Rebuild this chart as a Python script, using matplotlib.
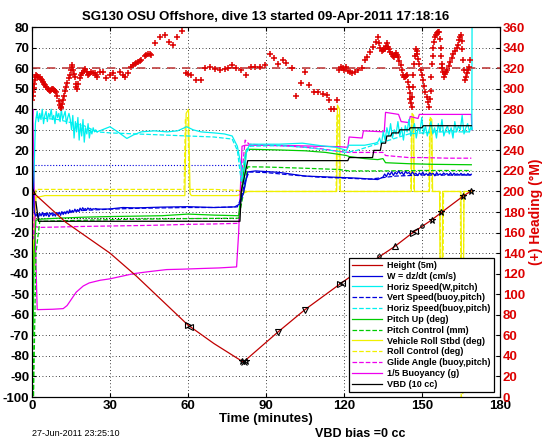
import numpy as np
import matplotlib
matplotlib.use('Agg')
import matplotlib.pyplot as plt

plt.rcParams['font.family'] = ['Liberation Sans', 'DejaVu Sans']
plt.rcParams['font.weight'] = 'bold'
plt.rcParams['axes.unicode_minus'] = False

# ---- data (time in minutes) ----
height_t = [0, 13, 30, 40, 60, 70, 81.3, 94.5, 105, 118.5, 128, 139.6, 146.5, 153.7, 157.5, 165.7, 169]
height_v = [0, -15, -30, -41, -65, -74, -83, -68.5, -57.5, -45, -36.5, -26.7, -20, -13.9, -10.2, -2.4, 0.3]

hmark_t = [0, 60, 60.9, 80.8, 81.6, 82.4, 94.5, 105, 118.3, 119.2, 128, 133.5, 139.6, 146.4, 147.2, 150, 153.7, 157.5, 165.7, 169]
hmark_v = [0, -65, -65.8, -82.6, -83, -82.6, -68.5, -57.5, -45.2, -44.3, -36.5, -31.5, -26.7, -20.1, -19.4, -17, -13.9, -10.2, -2.4, 0.3]
hmark_s = ['^', '>', '<', '*', 'x', '*', 'v', 'v', '>', '<', '.', '.', '^', '>', '<', '.', '*', '*', '*', '*']

# W = dz/dt
w_start_t = [0, 0.4, 0.8]
w_start_v = [22, 5, -9]
w_noisy1 = [-10.5, -12, -11, -12.5, -10.8, -11.9, -10.2, -12.1, -11, -11.8,
            -10.4, -12.3, -11.2, -10.6, -11.9, -10.9, -12.0, -10.3, -11.4, -10.1,
            -11.6, -9.8, -11.2, -10.0, -10.9, -9.5, -10.7, -8.9, -10.3, -9.2,
            -10.1, -8.6, -9.8, -8.8, -9.6, -8.1, -9.3, -7.9, -8.9, -8.3,
            -9.1, -8.0, -8.7, -8.2, -8.9, -8.4, -8.6, -8.3, -8.5]
w_mid_t = [27, 30, 35, 40, 50, 60, 70, 78, 80, 81.5, 83, 86, 95, 105, 115, 125, 133]
w_mid_v = [-8.6, -8.5, -7.8, -8, -7.6, -7.4, -7.8, -7.5, -6, 0, 9.5, 10, 9.3, 7.5, 7, 6.5, 5.8]
w_noisy2 = [7.0, 8.5, 7.2, 9.1, 8.0, 9.6, 7.8, 9.3, 8.4, 10.0, 8.6, 9.4, 7.9, 9.8, 8.8, 9.2, 8.1, 9.5, 8.3, 8.9,
            7.7, 9.0, 8.2, 9.3, 8.0, 8.7, 7.9, 9.1, 8.4, 8.8, 7.6, 9.2, 8.1, 8.6, 7.9, 9.0, 8.3, 8.7, 8.0, 9.1,
            7.8, 8.9, 8.2, 8.6, 7.9, 8.8, 8.1, 8.5, 7.8, 8.7, 8.0, 8.4]

# Horiz speed (W, pitch)
hs_start_t = [0.3, 0.7, 1.0, 1.3]
hs_start_v = [-8, 5, 20, 33]
hs_noisy1 = [35, 39, 34, 38, 35, 40, 33, 37, 39, 34, 38, 36, 40, 35, 37, 33, 39, 36, 38, 34,
             40, 35, 37, 39, 33, 36, 38, 35, 30, 37, 26, 34, 29, 36, 25, 33, 27, 35, 24, 31,
             28, 33, 26, 30, 28, 31, 29, 30, 29]
hs_mid_t = [27, 30, 33, 36.5, 39, 42, 47, 52, 56, 59.5, 62, 65, 70, 74, 77, 79, 80.5, 81.5, 82.5,
            84, 95, 104, 111, 117, 121, 121.8, 128, 132]
hs_mid_v = [30, 31.5, 29, 25.8, 27.5, 29, 29.5, 29, 29.5, 31.5, 30, 29, 28.5, 28, 27, 22, 12, 3, 20,
            23, 23, 23.5, 22.3, 21.5, 20, 22.5, 22.5, 23.5]
hs_noisy2 = [24, 26, 23, 29, 25, 31, 27, 33, 26, 30, 28, 34, 27, 31, 25, 32, 29, 35, 27, 30,
             33, 26, 31, 29, 36, 28, 32, 27, 30, 34, 28, 31, 26, 33, 29, 35, 27, 30, 32, 28,
             31, 26, 34, 29, 32, 30, 37, 28, 31, 33, 29, 32]
hs_end_t = [169.2, 169.3]
hs_end_v = [30, 95]

# Vert speed (buoy, pitch)
vsb_t = [1.5, 10, 20, 30, 40, 50, 60, 70, 79, 80.5, 82, 83.5, 90, 100, 110, 120, 130, 140, 150, 160, 169]
vsb_v = [-11, -10.5, -9.2, -8.6, -8.2, -8, -7.8, -7.8, -7.5, -3, 5, 9.5, 9.2, 8, 7, 6.5, 6, 7.5, 8, 8, 8]

# Horiz speed (buoy, pitch)
hsb_t = [1.5, 10, 20, 25, 30, 40, 50, 60, 70, 77, 79, 80.5, 82, 84, 95, 105, 115, 121, 125, 135, 145, 155, 165, 169]
hsb_v = [36, 35, 32, 29, 28.5, 28, 27.5, 27, 26.5, 25.5, 20, 5, 18, 22, 22.3, 21.5, 20, 19, 20, 24, 28, 29, 29, 29]

# Pitch up (deg)
pitch_t = [0, 0.4, 0.8, 1.5, 3, 10, 20, 30, 40, 50, 60, 70, 79.5, 81, 82.5, 85, 95, 105, 113, 121, 122,
           128, 133, 135, 136, 145, 155, 169]
pitch_v = [5, -70, -30, -14, -13.5, -13, -12.5, -12.2, -12, -11.8, -11, -11.5, -11.8, 5, 20.5, 20.5, 20.2,
           19.8, 19, 17.5, 17, 16, 15.5, 16, 14, 13.5, 13.2, 13]

# Pitch control (mm)
pctl_t = [0, 0.5, 0.6, 1.5, 3, 20, 40, 60, 79.5, 81.5, 83, 90, 105, 118, 122, 135, 150, 169]
pctl_v = [-20, -100, -100, -30, -14.5, -14, -13.5, -13.2, -13, 0, 12, 11.9, 11.3, 10.7, 10, 10, 10.2, 10.2]

# Vehicle roll (deg)
roll_t = [0, 0.3, 0.6, 1.5, 5, 20, 40, 58.8, 59.3, 60.2, 60.8, 61.3, 70, 79, 81, 83, 100, 117.2, 117.5,
          118.3, 118.6, 130, 145.9, 146.2, 146.8, 147.1, 152.9, 153.2, 153.8, 154.1, 156.8, 157.1,
          157.7, 158, 165, 165.3, 165.9, 166.2, 169]
roll_v = [0, -5, -40, -3, -2, -2, -2, -2, 38, 40, -1, -2, -2, -2, -1, 0, 0, 0, 42, 40, 0, 0, 0, 38, 37,
          0, 0, 36, 35, 0, 0, -62, -60, 0, 0, -58, -55, 0, 0]

# Roll control (deg)
rctl_t = [0.5, 1.5, 10, 40, 58.5, 59, 60, 60.5, 70, 80, 83, 117, 117.3, 118, 118.3, 145.7, 146, 146.6,
          146.9, 152.7, 153, 153.6, 153.9, 157, 157.3, 158, 158.3, 164.8, 165.1, 165.8, 166.1, 169]
rctl_v = [-40, 1, 1, 1, 1, 35, 36, 1, 1, 0.5, 0, 0, 38, 37, 0, 0, 36, 35, 0, 0, 35, 34, 0, 0, -75, -73,
          0, 0, -100, -98, 0, 0]

# Glide angle (buoy, pitch)
glide_t = [0, 0.5, 1.5, 2.5, 10, 20, 30, 45, 60, 70, 79.5, 80.5, 82, 83.5, 90, 100, 110, 118, 122, 130,
           135, 136, 145, 150, 160, 169]
glide_v = [20, -23, -17, -17.5, -17.3, -17, -16.8, -16.5, -16, -15.8, -15.5, 5, 25, 23, 22.5, 22, 21,
           19.5, 19, 19, 19, 17.5, 16.5, 16.5, 16.2, 16.2]

# 1/5 buoyancy (g)
buoy_t = [0, 0.3, 1.2, 2, 8, 12, 13.5, 15.6, 17, 19.7, 22, 26.2, 30, 39, 45, 51.8, 58, 64.6, 72, 78.7,
          79.5, 80.8, 82, 90, 100, 110, 118, 121.5, 122, 127, 127.5, 135.5, 136, 141, 142, 145, 145.5,
          148.5, 149, 169, 169.2]
buoy_v = [30, 40, -20, -57.5, -57.3, -57, -55.5, -51.6, -49, -46, -44.5, -43.2, -42.5, -40, -39, -38,
          -37.8, -37.5, -37.2, -36.7, -20, 22, 22.5, 22.5, 22.3, 22, 21.8, 21.5, 26.5, 26, 29.5, 29,
          38.5, 37.5, 34, 33.5, 36.5, 35.5, 37.5, 37.5, 30]

# VBD (10 cc)
vbd_t = [1.5, 2.5, 80, 80.5, 83, 121.5, 122, 131, 131.5, 134, 134.5, 136, 136.5, 138, 138.5, 141,
         141.5, 145, 145.5, 150, 150.5, 169]
vbd_v = [-5, -14.5, -14.5, 0, 15, 15, 16.5, 16.5, 20, 20, 23.5, 23.5, 27, 27, 28.5, 28.5, 30, 30,
         31, 31, 32, 32]

# heading (deg M), right axis
head_t = [0.0, 0.2, 0.4, 0.6, 0.8, 1.0, 1.3, 1.7, 2.1, 2.5, 2.9, 3.3, 3.7, 4.2, 4.6, 5.0, 5.5, 6.0, 6.4,
          6.8, 7.3, 7.7, 8.1, 8.5, 9.0, 9.4, 9.8, 10.2, 10.6, 11.0, 11.3, 11.6, 11.9, 12.3, 12.8, 13.2,
          13.6, 14.1, 14.5, 14.9, 15.2, 15.4, 15.8, 16.1, 16.4, 16.8, 17.1, 17.4, 17.8, 18.3, 18.8,
          19.4, 19.9, 20.5, 21.0, 21.5, 22.1, 22.8, 23.4, 24.1, 24.6, 25.1,
          26.0, 27.3, 28.6, 29.9, 31.2, 32.1, 33.7, 35.0, 35.6, 36.9, 38.2, 38.8, 39.5, 40.2, 40.8,
          41.5, 42.1, 43.3, 44.0, 44.6, 45.3, 45.9, 47.2, 49.1, 51.0, 52.7, 54.2, 55.9, 57.7, 59.4,
          60.2, 61.3, 63.2, 64.9, 66.7, 68.3, 70.3, 72.2, 74.1, 75.4, 76.9, 78.6, 80.5, 82.4, 84.1,
          85.6, 87.6, 89.5, 91.4, 93.1, 94.7, 96.4, 97.9, 99.9, 101.5, 103.3, 105.0, 106.7, 108.5,
          110.1, 111.8, 113.3, 114.4, 115.2, 116.2, 117.2, 118.1, 118.8, 119.5, 120.1, 120.8, 121.7,
          122.3, 123.0, 124.2, 125.5, 126.8, 128.1, 129.0, 130.0, 131.3, 132.3, 133.2,
          133.6, 134.0, 134.5, 135.0, 135.4, 135.8, 136.2, 136.6, 137.0, 137.5, 137.9, 138.3, 138.7,
          139.2, 139.6, 140.0, 140.4, 140.9, 141.3, 141.8, 142.2, 142.6, 143.0, 143.5, 144.0, 144.4,
          144.8, 145.1, 145.4, 145.6, 145.8, 146.0, 146.2, 146.4, 146.6, 146.9, 147.3, 147.7, 148.0,
          148.2, 148.6, 149.0, 149.5, 149.9, 150.4, 150.8, 151.3, 151.8, 152.3, 152.8, 153.1, 153.4,
          153.6, 153.8, 154.1, 154.4, 154.7, 155.1, 155.4, 155.7, 156.2, 156.7, 157.0, 157.2, 157.4,
          157.6, 157.8, 158.0, 158.5, 159.0, 159.4, 159.8, 160.3, 160.8, 161.4, 162.0, 162.6, 163.3,
          163.8, 164.4, 164.8, 165.1, 165.3, 165.6, 165.9, 166.2, 166.5, 166.9, 167.4, 167.8, 168.2,
          168.4]
head_v = [289, 293, 297, 301, 305, 308, 311, 313, 312, 311.5, 311, 309, 308, 306.5, 305, 303.5, 302, 300,
          299, 298, 299, 300, 300, 299, 298, 297, 293, 288, 284, 282, 281, 285, 289, 293, 298, 302, 306,
          310, 313, 318, 321, 323, 318, 314, 311, 305, 302, 300, 305, 310, 313, 315, 317, 319.5, 316,
          313, 314, 316, 315.5, 315, 313, 311,
          316, 316, 310, 313, 315, 310, 316, 313, 311, 315, 321, 323, 324, 325, 326, 327, 327.6, 332,
          333, 334, 333.5, 333, 344, 350, 352, 345, 343, 350, 356, 315, 314, 313, 308, 308, 320, 321,
          319, 318, 319, 320, 323, 320, 318, 313, 321, 321, 321, 323, 334, 330, 324, 328, 325, 320,
          293, 306, 316, 304, 297, 297, 294.5, 293.5, 289, 280, 280, 289, 318.5, 321, 320, 318, 321,
          317, 316, 315, 316, 318.5, 320, 327.6, 331, 336, 341, 345, 350,
          344, 340, 337, 338, 339, 339, 342, 344, 341, 339, 336, 334, 332, 331, 333, 335, 333, 331,
          327, 323, 318, 313, 311, 311, 312, 313, 307, 302, 296, 290, 286, 282, 292, 302, 313, 324,
          332, 339, 337, 334, 329, 324, 318, 313, 308, 303, 297, 292, 287, 282, 290, 298, 311, 324,
          332, 340, 345, 350, 352, 354, 355, 355, 348, 340, 332, 324, 320, 316, 311, 314, 316, 318.5,
          322, 326, 330, 334, 337, 340, 343, 347, 350, 352, 346, 339, 328, 318, 308, 311, 315, 318,
          321, 328]
head_ref = 320

# ---- figure ----
fig = plt.figure(figsize=(5.46, 4.42), dpi=100)
ax = fig.add_axes([0.0586, 0.1018, 0.857, 0.837])
ax2 = ax.twinx()

red = '#c00000'
blue = '#0000dd'
cyan = '#00f0f0'
green = '#00cc00'
yellow = '#f0f000'
magenta = '#ee00ee'
lw = 0.9

w_t = w_start_t + list(np.linspace(1.0, 25.0, len(w_noisy1))) + w_mid_t + list(np.linspace(135, 169, len(w_noisy2)))
w_v = w_start_v + w_noisy1 + w_mid_v + w_noisy2
hs_t = hs_start_t + list(np.linspace(1.5, 25.0, len(hs_noisy1))) + hs_mid_t + list(np.linspace(133, 169, len(hs_noisy2))) + hs_end_t
hs_v = hs_start_v + hs_noisy1 + hs_mid_v + hs_noisy2 + hs_end_v

ax.plot([1, 80], [13, 13], color=blue, ls=':', lw=0.8)
ax.plot([1, 80], [-13, -13], color='k', ls=':', lw=0.8)

h_roll, = ax.plot(roll_t, roll_v, color=yellow, lw=lw)
h_rctl, = ax.plot(rctl_t, rctl_v, color=yellow, lw=lw, ls='--')
h_buoy, = ax.plot(buoy_t, buoy_v, color=magenta, lw=lw)
h_glide, = ax.plot(glide_t, glide_v, color=magenta, lw=lw, ls='--')
h_pitch, = ax.plot(pitch_t, pitch_v, color=green, lw=lw)
h_pctl, = ax.plot(pctl_t, pctl_v, color=green, lw=lw, ls='--')
h_hsb, = ax.plot(hsb_t, hsb_v, color=cyan, lw=lw, ls='--')
h_hs, = ax.plot(hs_t, hs_v, color=cyan, lw=lw)
h_vsb, = ax.plot(vsb_t, vsb_v, color=blue, lw=lw, ls='--')
h_w, = ax.plot(w_t, w_v, color=blue, lw=lw)
h_vbd, = ax.plot(vbd_t, vbd_v, color='k', lw=lw)
h_height, = ax.plot(height_t, height_v, color=red, lw=lw)
for t, v, s in zip(hmark_t, hmark_v, hmark_s):
    ax.plot(t, v, marker=s, color='k', mfc='none', ms=5, mew=0.8)

ax2.plot([0, 180], [head_ref, head_ref], color='#c04040', ls='--', lw=1.2, dashes=(5, 4))
ax2.plot(head_t, head_v, ls='none', marker='+', color='#dd0000', ms=4, mew=1.1)

ax.set_xlim(0, 180)
ax.set_ylim(-100, 80)
ax.set_xticks(range(0, 181, 30))
ax.set_yticks(range(-100, 81, 10))
ax2.set_ylim(0, 360)
ax2.set_yticks(range(0, 361, 20))

ax.grid(True, color='k', ls=(0, (1, 3)), lw=0.6)
ax.tick_params(direction='in', length=3, labelsize=9.5, top=True, pad=2)
ax2.tick_params(direction='in', length=3, labelsize=9.5, colors='#dd0000', pad=2)
ax2.tick_params(axis='y', color='k')
for sp in ax.spines.values():
    sp.set_linewidth(0.8)

ax.set_title('SG130 OSU Offshore, dive 13 started 09-Apr-2011 17:18:16', fontsize=9.5, fontweight='bold', pad=5)
ax.set_xlabel('Time (minutes)', fontsize=9.5, fontweight='bold', labelpad=1)
ax2.set_ylabel('(+) Heading (\u00b0M)', fontsize=10, fontweight='bold', color='#dd0000', labelpad=3)

handles = [h_height, h_w, h_hs, h_vsb, h_hsb, h_pitch, h_pctl, h_roll, h_rctl, h_glide, h_buoy, h_vbd]
labels = ['Height (5m)', 'W = dz/dt (cm/s)', 'Horiz Speed(W,pitch)', 'Vert Speed(buoy,pitch)',
          'Horiz Speed(buoy,pitch)', 'Pitch Up (deg)', 'Pitch Control (mm)', 'Vehicle Roll Stbd (deg)',
          'Roll Control (deg)', 'Glide Angle (buoy,pitch)', '1/5 Buoyancy (g)', 'VBD (10 cc)']
leg = ax2.legend(handles, labels, loc='lower right', bbox_to_anchor=(0.987, 0.0135), borderaxespad=0,
                 fontsize=6.5, fancybox=False, framealpha=1, edgecolor='k', handlelength=3.3,
                 labelspacing=0.2, borderpad=0.35, handletextpad=0.55)
leg.get_frame().set_linewidth(0.9)

fig.text(32 / 546, 1 - 433 / 442, '27-Jun-2011 23:25:10', fontsize=6.5, fontweight='normal', va='center')
fig.text(315 / 546, 1 - 434 / 442, 'VBD bias =0 cc', fontsize=9, fontweight='bold', va='center')

fig.savefig('out.png', dpi=100)
